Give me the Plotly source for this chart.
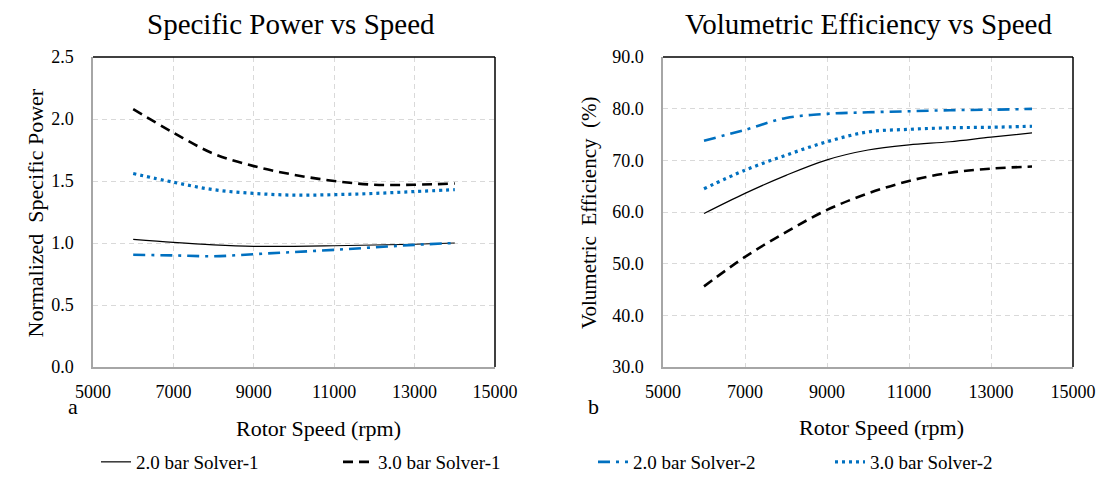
import plotly.graph_objects as go

speed = [6000, 7000, 8000, 9000, 10000, 11000, 12000, 13000, 14000]

sp_20_s1 = [1.03, 1.005, 0.985, 0.973, 0.973, 0.978, 0.984, 0.99, 1.00]
sp_30_s1 = [2.08, 1.89, 1.72, 1.62, 1.55, 1.50, 1.47, 1.47, 1.48]
sp_20_s2 = [0.905, 0.90, 0.893, 0.91, 0.927, 0.945, 0.965, 0.985, 1.00]
sp_30_s2 = [1.56, 1.49, 1.43, 1.40, 1.386, 1.39, 1.40, 1.415, 1.43]

ve_20_s1 = [59.7, 63.6, 67.1, 70.1, 72.0, 73.0, 73.6, 74.5, 75.3]
ve_30_s1 = [45.6, 51.3, 56.1, 60.4, 63.6, 66.0, 67.6, 68.4, 68.8]
ve_20_s2 = [73.8, 75.9, 78.2, 79.0, 79.3, 79.5, 79.7, 79.8, 79.95]
ve_30_s2 = [64.5, 68.1, 71.0, 73.6, 75.5, 76.0, 76.3, 76.4, 76.6]

names = ["2.0 bar Solver-1", "3.0 bar Solver-1", "2.0 bar Solver-2", "3.0 bar Solver-2"]

FONT = "Liberation Serif"
BLUE = "#0070C0"
styles = [
    dict(color="black", width=1.2, dash="solid"),
    dict(color="black", width=2.6, dash="10px,6px"),
    dict(color=BLUE, width=2.6, dash="12px,6px,3px,6px"),
    dict(color=BLUE, width=3.2, dash="3px,4px"),
]

fig = go.Figure()
left = [sp_20_s1, sp_30_s1, sp_20_s2, sp_30_s2]
right = [ve_20_s1, ve_30_s1, ve_20_s2, ve_30_s2]
legends = ["legend", "legend2", "legend3", "legend4"]
for i in range(4):
    fig.add_trace(go.Scatter(x=speed, y=left[i], mode="lines", name=names[i],
                             line=dict(shape="spline", **styles[i]),
                             xaxis="x", yaxis="y", legend=legends[i]))
for i in range(4):
    fig.add_trace(go.Scatter(x=speed, y=right[i], mode="lines", name=names[i],
                             line=dict(shape="spline", **styles[i]),
                             xaxis="x2", yaxis="y2", showlegend=False))

W, H = 1100, 483
def px(x): return x / W
def py(y): return 1 - y / H

ydom = [py(367), py(57)]
axcommon = dict(showgrid=True, gridcolor="#d9d9d9", griddash="5px,4px", gridwidth=1,
                showline=True, linecolor="#a6a6a6", linewidth=1.5, zeroline=False,
                ticks="", automargin=False,
                tickfont=dict(family=FONT, size=18, color="black"))

fig.update_layout(
    width=W, height=H, margin=dict(l=0, r=0, t=0, b=0, autoexpand=False),
    paper_bgcolor="white", plot_bgcolor="white",
    font=dict(family=FONT, color="black"),
    xaxis=dict(domain=[px(93), px(495)], range=[5000, 15000], dtick=2000, tick0=5000,
               tickformat="d", anchor="y", ticklabelstandoff=8, **axcommon),
    yaxis=dict(domain=ydom, range=[0, 2.5], dtick=0.5, tickformat=".1f", anchor="x",
               ticklabelstandoff=14, **axcommon),
    xaxis2=dict(domain=[px(663), px(1073)], range=[5000, 15000], dtick=2000, tick0=5000,
                tickformat="d", anchor="y2", ticklabelstandoff=8, **axcommon),
    yaxis2=dict(domain=ydom, range=[30, 90], dtick=10, tickformat=".1f", anchor="x2",
                ticklabelstandoff=14, **axcommon),
)

# top/right borders (black)
for xr, yr in [("x domain", "y domain"), ("x2 domain", "y2 domain")]:
    fig.add_shape(type="line", xref=xr, yref=yr, x0=0, x1=1, y0=1, y1=1,
                  line=dict(color="black", width=1.5))
    fig.add_shape(type="line", xref=xr, yref=yr, x0=1, x1=1, y0=0, y1=1,
                  line=dict(color="black", width=1.5))

# legends
leg_x = [96, 338, 593, 830]
for i, lg in enumerate(legends):
    fig.update_layout(**{lg: dict(x=px(leg_x[i]), y=py(481), xanchor="left", yanchor="bottom",
                                  orientation="h", bgcolor="rgba(0,0,0,0)",
                                  font=dict(family=FONT, size=19, color="black"),
                                  itemwidth=30)})

ann = [
    dict(text="Specific Power vs Speed", x=px(291), y=py(24), size=29),
    dict(text="Volumetric Efficiency vs Speed", x=px(868), y=py(24), size=29),
    dict(text="Rotor Speed (rpm)", x=px(318), y=py(428), size=22),
    dict(text="Rotor Speed (rpm)", x=px(881), y=py(427), size=22),
    dict(text="a", x=px(73), y=py(406), size=22),
    dict(text="b", x=px(593), y=py(406), size=22),
]
for a in ann:
    fig.add_annotation(text=a["text"], x=a["x"], y=a["y"], xref="paper", yref="paper",
                       showarrow=False, xanchor="center", yanchor="middle",
                       font=dict(family=FONT, size=a["size"], color="black"))
fig.add_annotation(text="Normalized  Specific Power", x=px(20), y=py(213), xref="paper", yref="paper",
                   showarrow=False, textangle=-90, font=dict(family=FONT, size=22, color="black"))
fig.add_annotation(text="Volumetric  Efficiency  (%)", x=px(589), y=py(213), xref="paper", yref="paper",
                   showarrow=False, textangle=-90, font=dict(family=FONT, size=21, color="black"))

fig.write_html("out.html", config={"displayModeBar": False},
               post_script="document.body.style.margin='0';document.body.style.overflow='hidden';")
